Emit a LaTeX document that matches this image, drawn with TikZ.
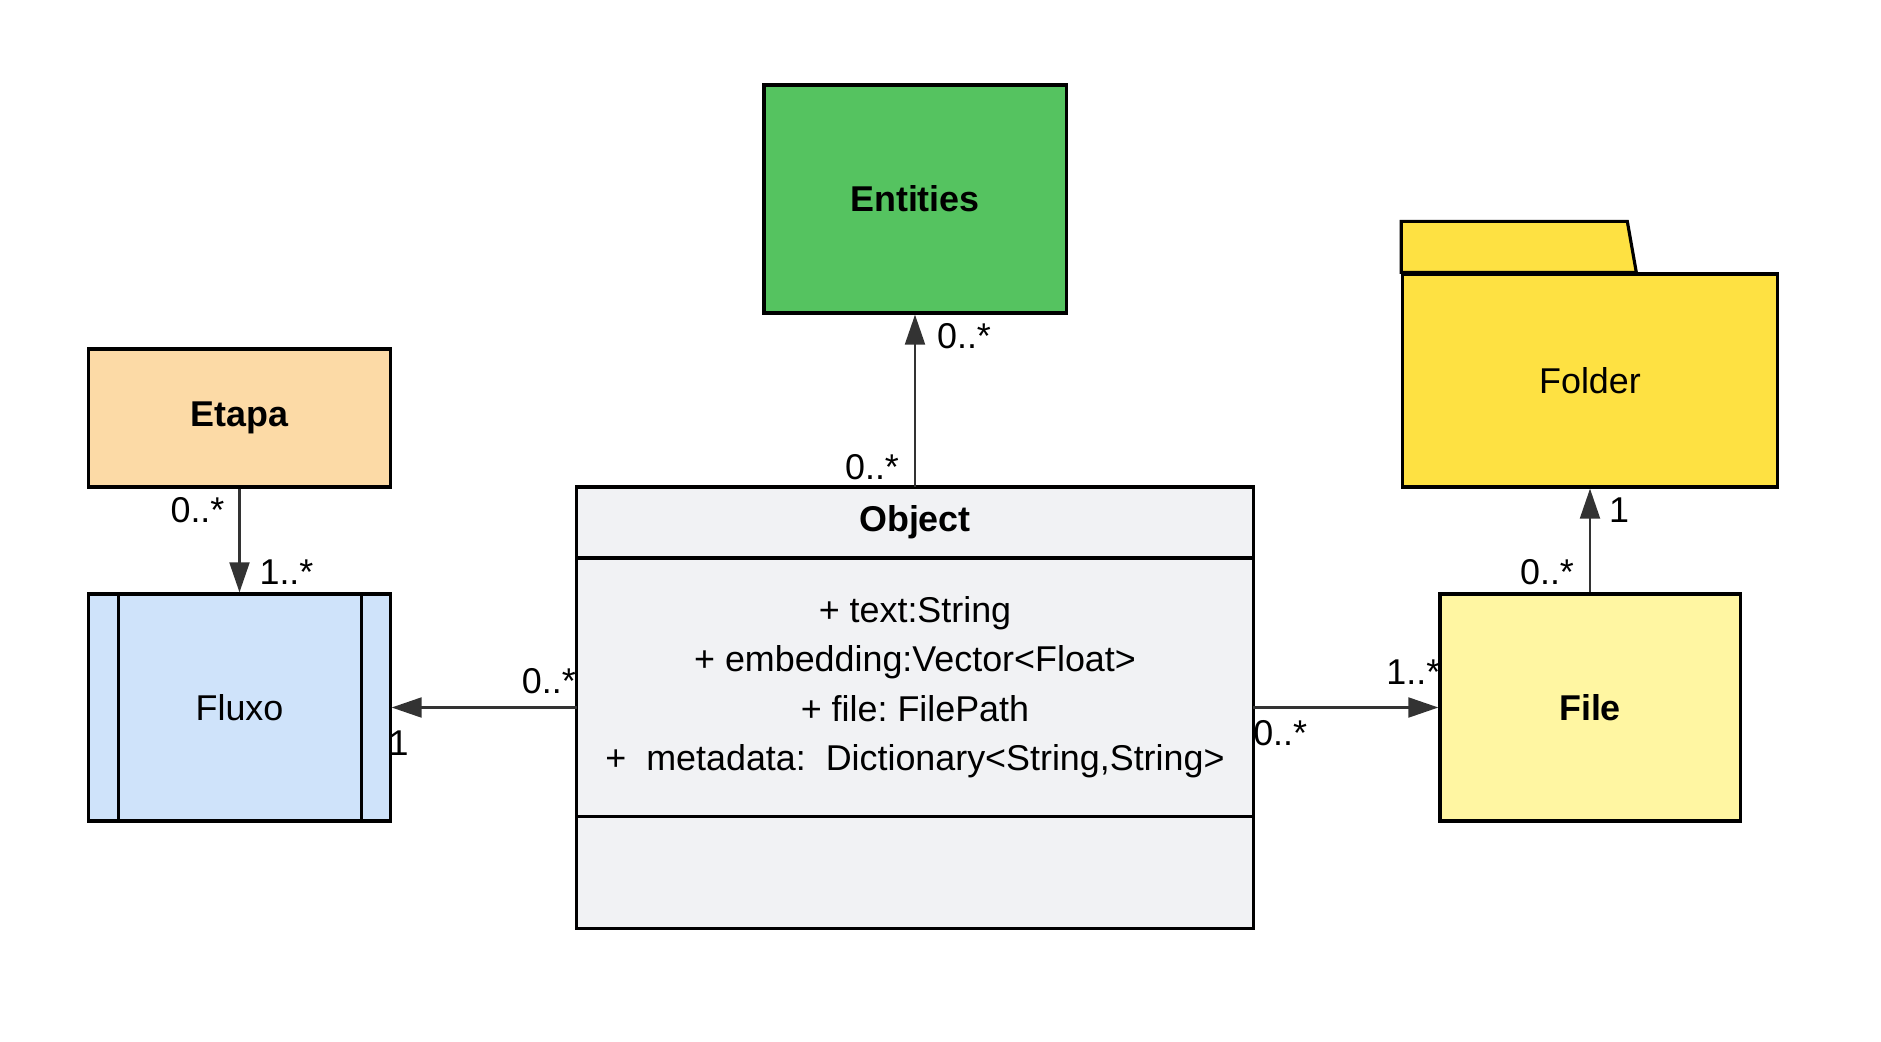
\documentclass[tikz,border=0pt]{standalone}
\usepackage{fontspec}
\setmainfont{Liberation Sans}
\usetikzlibrary{positioning,arrows.meta,calc}
\definecolor{verde}{HTML}{55C360}
\definecolor{pessego}{HTML}{FCDAA6}
\definecolor{azulclaro}{HTML}{CFE3FA}
\definecolor{cinza}{HTML}{F1F2F4}
\definecolor{amarelo}{HTML}{FEE142}
\definecolor{amareloclaro}{HTML}{FFF6A2}
\definecolor{traco}{HTML}{333333}
\newcommand{\tamanho}{\fontsize{10.2}{14.1}\selectfont\frenchspacing}

\begin{document}
\begin{tikzpicture}[x=0.01cm, y=0.01cm, font=\tamanho,
    caixa/.style={draw=black, line width=0.9pt, inner sep=0pt, align=center},
    assoc/.style={draw=traco, line width=0.6pt, -{Triangle[length=0.3cm, width=0.2cm]}},
    mult/.style={inner sep=0pt}]
    \useasboundingbox (0,0) rectangle (1881,1041);
    % caixas
    \node[caixa, fill=verde, minimum width=3.02cm, minimum height=2.28cm] (entities) at (915,842) {\textbf{Entities}};
    \node[caixa, fill=pessego, minimum width=3.01cm, minimum height=1.38cm] (etapa) at (239.5,623) {\textbf{Etapa}};
    \node[caixa, fill=azulclaro, minimum width=3.01cm, minimum height=2.27cm] (fluxo) at (239.5,333.5) {Fluxo};
    \draw[line width=0.9pt] ([xshift=0.31cm]fluxo.north west) -- ([xshift=0.31cm]fluxo.south west);
    \draw[line width=0.9pt] ([xshift=-0.30cm]fluxo.north east) -- ([xshift=-0.30cm]fluxo.south east);
    % classe Object: nome, atributos, operacoes
    \node[caixa, outer sep=0pt, fill=cinza, minimum width=6.76cm, minimum height=0.71cm] (objcab) at (915,518.5) {\textbf{Object}};
    \node[caixa, outer sep=0pt, fill=cinza, minimum width=6.76cm, minimum height=2.58cm, below=0pt of objcab] (objatr)
      {+ text:String\\ + embedding:Vector<Float>\\ + file: FilePath\\ +\ \ metadata:\ \ Dictionary<String,String>};
    \node[caixa, outer sep=0pt, fill=cinza, minimum width=6.76cm, minimum height=1.12cm, below=0pt of objatr] (objop) {};
    % pasta e arquivo
    \node[caixa, fill=amarelo, minimum width=3.74cm, minimum height=2.13cm] (pasta) at (1590,660.5) {Folder};
    \draw[line width=0.9pt, fill=amarelo] (pasta.north west) -- ++(0,51) -- ++(226,0) -- ++(9,-51) -- cycle;
    \node[caixa, fill=amareloclaro, minimum width=3.00cm, minimum height=2.27cm] (arquivo) at (1590,333.5) {\textbf{File}};
    % associacoes
    \draw[assoc] (objcab.north) -- (entities.south);
    \draw[assoc] (etapa.south) -- (fluxo.north);
    \draw[assoc] (objatr.west |- fluxo.east) -- (fluxo.east);
    \draw[assoc] (objatr.east |- arquivo.west) -- (arquivo.west);
    \draw[assoc] (arquivo.north) -- (pasta.south);
    % multiplicidades
    \node[mult] (mEnt) at ([shift={(49,-21)}]entities.south) {0..*};
    \node[mult] (mObjCima) at ([shift={(-43,20)}]objcab.north) {0..*};
    \node[mult] (mEtapa) at ([shift={(-42,-22)}]etapa.south) {0..*};
    \node[mult] (mFluxoCima) at ([shift={(47,20)}]fluxo.north) {1..*};
    \node[mult] (mObjEsq) at ([shift={(-28,26)}]objatr.west |- fluxo.east) {0..*};
    \node[mult] (mFluxoDir) at ([shift={(7,-36)}]fluxo.east) {1};
    \node[mult] (mArquivoEsq) at ([shift={(-25,35)}]arquivo.west) {1..*};
    \node[mult] (mObjDir) at ([shift={(27,-26)}]objatr.east |- arquivo.west) {0..*};
    \node[mult] (mPasta) at ([shift={(29,-22)}]pasta.south) {1};
    \node[mult] (mArquivoCima) at ([shift={(-43,20)}]arquivo.north) {0..*};
\end{tikzpicture}
\end{document}
